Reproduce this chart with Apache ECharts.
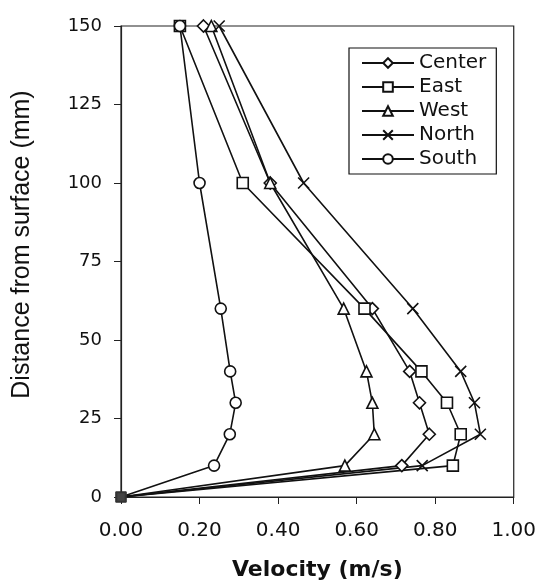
<!DOCTYPE html>
<html>
<head>
<meta charset="utf-8">
<script src="https://cdn.jsdelivr.net/npm/echarts@6/dist/echarts.min.js"></script>
<style>
	html, body { margin: 0; padding: 0; background: #fff; }
	#main { width: 539px; height: 586px; }
</style>
</head>
<body>
<div id="main"></div>
<script>
// depth below surface (mm), same for every station
var depths = [150, 100, 60, 40, 30, 20, 10, 0];

// velocity (m/s)
var centerVel = [0.21, 0.38, 0.64, 0.735, 0.76, 0.785, 0.715, 0];
var eastVel = [0.15, 0.31, 0.62, 0.765, 0.83, 0.865, 0.845, 0];
var westVel = [0.23, 0.38, 0.567, 0.625, 0.64, 0.645, 0.57, 0];
var northVel = [0.25, 0.465, 0.743, 0.865, 0.90, 0.915, 0.767, 0];
var southVel = [0.15, 0.20, 0.254, 0.278, 0.292, 0.277, 0.237, 0];

var names = ['Center', 'East', 'West', 'North', 'South'];
var xTicks = [0, 0.2, 0.4, 0.6, 0.8, 1.0];
var yTicks = [0, 25, 50, 75, 100, 125, 150];

var crossPath = 'path://M0,0L10,10M10,0L0,10';

function toPoints(vel) {
	var pts = new Array();
	for (var k in vel) {
		if (vel[k] === 0) {
			// all stations meet at the floor, drawn as a dark filled block
			pts[k] = { value: [vel[k], depths[k]], symbol: 'rect', symbolSize: 9,
				itemStyle: { color: '#444', borderColor: '#333' } };
		} else {
			pts[k] = [vel[k], depths[k]];
		}
	}
	return pts;
}

function makeSeries(name, vel, symbol, size) {
	return {
		name: name,
		type: 'line',
		data: toPoints(vel),
		symbol: symbol,
		symbolSize: size,
		showAllSymbol: true,
		z: 3,
		lineStyle: { color: '#111', width: 1.6 },
		itemStyle: { color: '#fff', borderColor: '#111', borderWidth: 1.6 },
		emphasis: { disabled: true }
	};
}

var myChart = echarts.init(document.getElementById('main'));
var option = {
	animation: false,
	backgroundColor: '#fff',
	grid: {
		left: 121,
		right: 25,
		top: 26,
		bottom: 88,
		show: true,
		borderColor: '#222',
		borderWidth: 1.2
	},
	legend: {
		orient: 'vertical',
		left: 349,
		top: 48,
		data: names,
		itemWidth: 52,
		itemHeight: 12,
		itemGap: 4,
		padding: [5, 10, 5, 12],
		borderColor: '#111',
		borderWidth: 1.2,
		backgroundColor: '#fff',
		textStyle: { fontFamily: 'DejaVu Sans', fontSize: 20, color: '#111' }
	},
	xAxis: {
		type: 'value',
		min: 0,
		max: 1,
		interval: 0.2,
		name: 'Velocity (m/s)',
		nameLocation: 'middle',
		nameGap: 62,
		nameTextStyle: { fontFamily: 'DejaVu Sans', fontWeight: 'bold', fontSize: 22, color: '#111' },
		axisLine: { show: true, lineStyle: { color: '#222', width: 1.2 } },
		axisTick: { show: true, inside: false, length: 7, lineStyle: { color: '#222' } },
		splitLine: { show: false },
		axisLabel: {
			margin: 24,
			fontFamily: 'DejaVu Sans',
			fontSize: 20,
			color: '#111',
			formatter: function (v) { return v.toFixed(2); }
		}
	},
	yAxis: {
		type: 'value',
		min: 0,
		max: 150,
		interval: 25,
		name: 'Distance from surface (mm)',
		nameLocation: 'middle',
		nameRotate: 90,
		nameGap: 86,
		nameTextStyle: { fontFamily: 'Liberation Sans', fontSize: 25, color: '#111', padding: [0, 0, 0, 34] },
		axisLine: { show: true, lineStyle: { color: '#222', width: 1.2 } },
		axisTick: { show: true, inside: false, length: 7, lineStyle: { color: '#222' } },
		splitLine: { show: false },
		axisLabel: {
			margin: 19,
			fontFamily: 'DejaVu Sans',
			fontSize: 18,
			color: '#111'
		}
	},
	series: [
		makeSeries('Center', centerVel, 'diamond', 12),
		makeSeries('East', eastVel, 'rect', 11),
		makeSeries('West', westVel, 'triangle', 11),
		makeSeries('North', northVel, crossPath, 11),
		makeSeries('South', southVel, 'circle', 11)
	]
};
myChart.setOption(option);
</script>
</body>
</html>
